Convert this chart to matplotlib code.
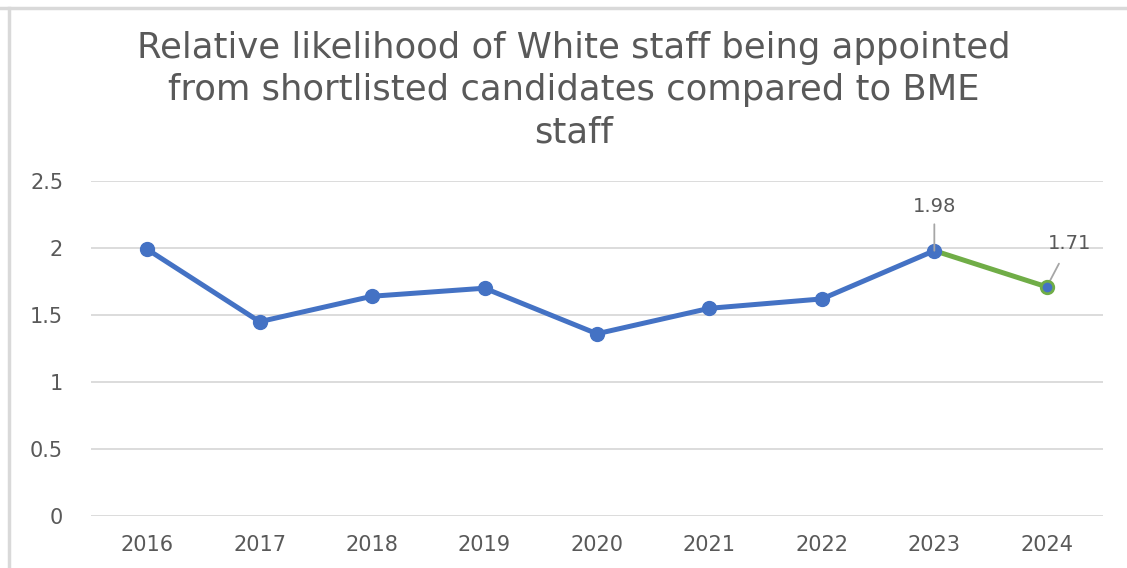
import matplotlib
matplotlib.use("Agg")
import matplotlib.pyplot as plt
from matplotlib.lines import Line2D

years = ["2016", "2017", "2018", "2019", "2020", "2021", "2022", "2023", "2024"]
ratio = [1.99, 1.45, 1.64, 1.70, 1.36, 1.55, 1.62, 1.98, 1.71]
labelled = {7: "1.98", 8: "1.71"}
y_ticks = [0, 0.5, 1, 1.5, 2, 2.5]
y_tick_labels = ["0", "0.5", "1", "1.5", "2", "2.5"]
title = "Relative likelihood of White staff being appointed\nfrom shortlisted candidates compared to BME\nstaff"

BLUE = "#4472C4"
GREEN = "#70AD47"
GREY_TXT = "#595959"
GRID = "#D9D9D9"

W, H = 1127, 568
fig = plt.figure(figsize=(W / 100, H / 100), dpi=100)
plt.rcParams["font.family"] = ["DejaVu Sans"]

# plot area in pixel coordinates
left, right, top, bottom = 91, 1103, 181, 516
ax = fig.add_axes([left / W, 1 - bottom / H, (right - left) / W, (bottom - top) / H])

x = list(range(len(years)))
ax.set_xlim(-0.5, len(years) - 0.5)
ax.set_ylim(0, 2.5)

# main series up to 2023, final segment in green
ax.plot(x[:-1], ratio[:-1], color=BLUE, lw=3.6, solid_capstyle="round",
        marker="o", ms=10, mfc=BLUE, mec=BLUE, zorder=3)
ax.plot(x[-2:], ratio[-2:], color=GREEN, lw=3.6, solid_capstyle="round", zorder=2)
ax.plot(x[-1], ratio[-1], marker="o", ms=9, mfc=BLUE, mec=GREEN, mew=2, zorder=4)

# data labels with leader lines
ax.annotate(labelled[7], xy=(x[7], ratio[7]), xytext=(x[7], ratio[7] + 0.33),
            ha="center", va="center", fontsize=14, color=GREY_TXT,
            arrowprops=dict(arrowstyle="-", color="#A6A6A6", lw=1.3,
                            shrinkA=4, shrinkB=0))
ax.annotate(labelled[8], xy=(x[8], ratio[8]), xytext=(x[8] + 0.2, ratio[8] + 0.32),
            ha="center", va="center", fontsize=14, color=GREY_TXT,
            arrowprops=dict(arrowstyle="-", color="#A6A6A6", lw=1.3,
                            shrinkA=6, shrinkB=1))

ax.set_yticks(y_ticks)
ax.set_yticklabels(y_tick_labels)
ax.set_xticks(x)
ax.set_xticklabels(years)
ax.tick_params(axis="both", length=0, labelsize=15, colors=GREY_TXT)
ax.tick_params(axis="y", pad=20)
ax.tick_params(axis="x", pad=14)
ax.grid(axis="y", color=GRID, lw=1.3)
ax.set_axisbelow(True)
for s in ax.spines.values():
    s.set_visible(False)

fig.text(574 / W, 1 - 90 / H, title, ha="center", va="center",
         fontsize=25.5, color=GREY_TXT, linespacing=1.3)

# chart frame edges
fig.add_artist(Line2D([0, 1], [1 - 7.5 / H, 1 - 7.5 / H], color=GRID, lw=2.5,
                      transform=fig.transFigure))
fig.add_artist(Line2D([8.5 / W, 8.5 / W], [0, 1 - 7.5 / H], color=GRID, lw=2.5,
                      transform=fig.transFigure))

fig.savefig("out.png", dpi=100)
